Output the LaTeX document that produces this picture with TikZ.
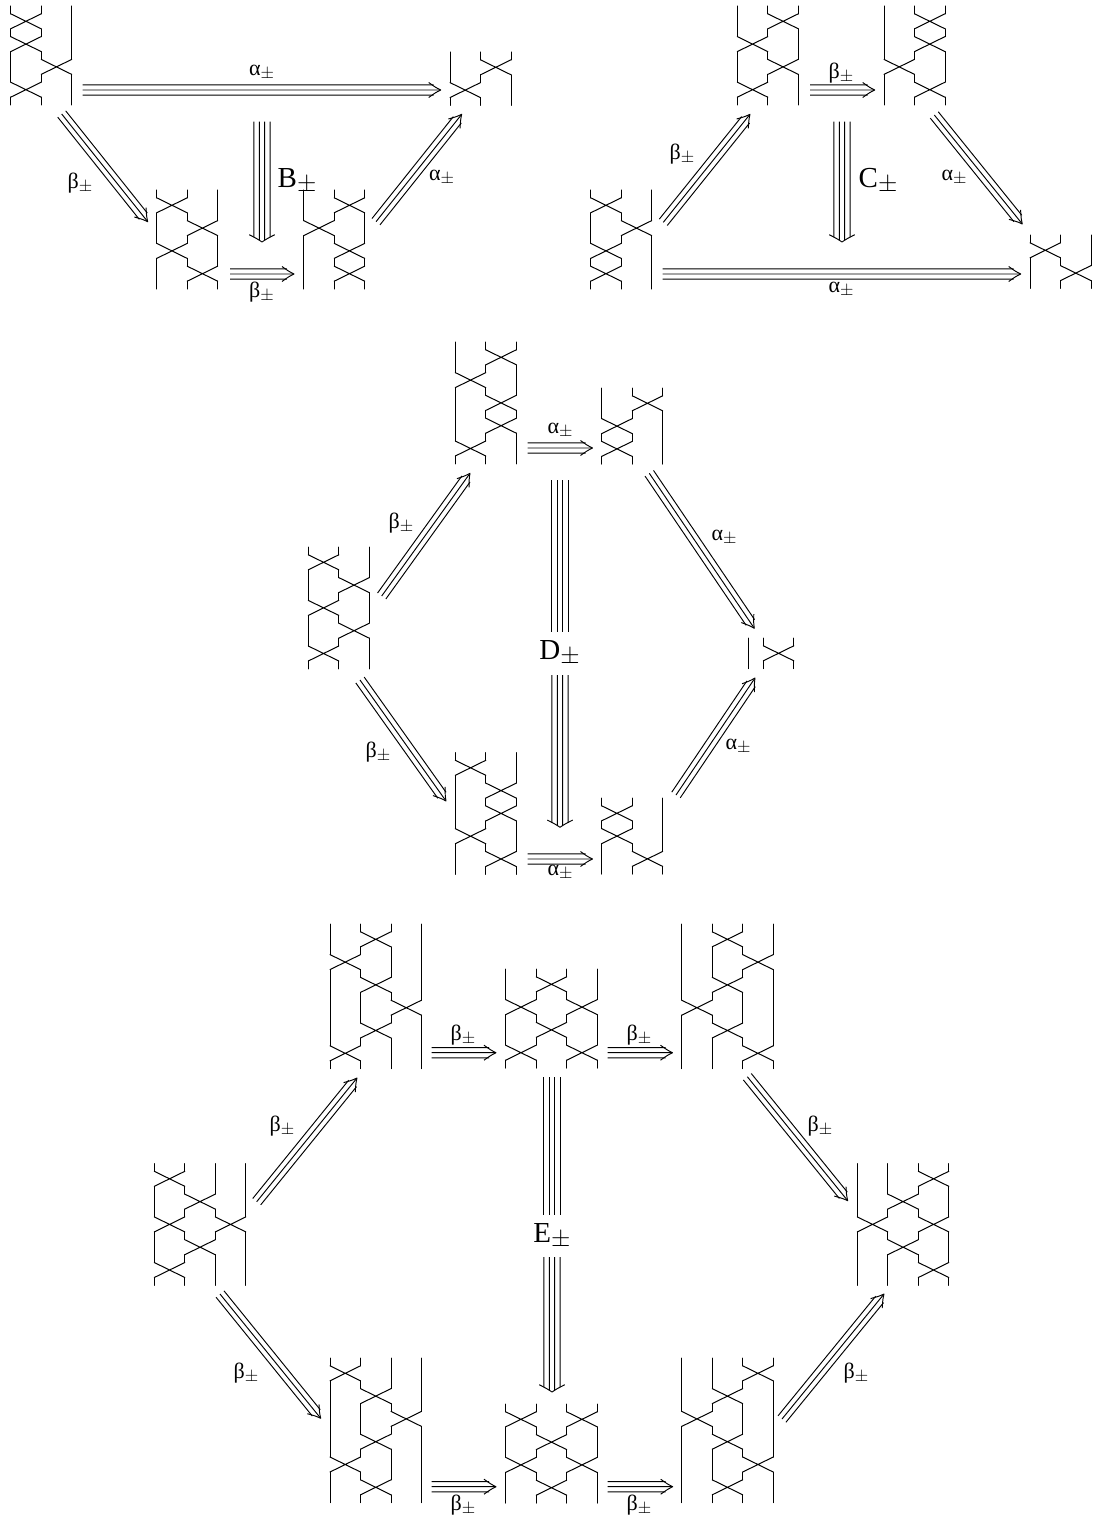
\documentclass[tikz,border=0pt]{standalone}
\usepackage{fontspec}
\setmainfont{Liberation Serif}
\usetikzlibrary{calc}
\tikzset{
  strand/.style={line width=1pt,line cap=round,line join=round,black},
  arrowline/.style={line width=0.95pt,line cap=butt,line join=round,black},
  lab/.style={inner sep=0pt,outer sep=0pt,black}
}
\def\bdx{30.5}
\def\bstep{22.8}
\def\bcap{15.3}
\def\bhalf{7.5}
% name, x0, ytop, number of strands, number of levels, list of level/position
\newcommand\braid[6]{%
  \pgfmathsetmacro\bbot{#3+2*\bcap+(#5-1)*\bstep}%
  \pgfmathsetmacro\bcx{#2+(#4-1)*\bdx/2}%
  \pgfmathsetmacro\bcy{(#3+\bbot)/2}%
  \coordinate (#1) at (\bcx,\bcy);
  \foreach \lv/\ps in {#6}{%
    \pgfmathtruncatemacro\psn{\ps+1}%
    \expandafter\gdef\csname br-#1-\lv-\ps\endcsname{}%
    \expandafter\gdef\csname br-#1-\lv-\psn\endcsname{}%
    \pgfmathsetmacro\xa{#2+\ps*\bdx}%
    \pgfmathsetmacro\xb{\xa+\bdx}%
    \pgfmathsetmacro\yc{#3+\bcap+\lv*\bstep}%
    \pgfmathsetmacro\ya{\yc-\bhalf}%
    \pgfmathsetmacro\yb{\yc+\bhalf}%
    \draw[strand] (\xa,\ya) -- (\xb,\yb) (\xb,\ya) -- (\xa,\yb);
  }%
  \pgfmathtruncatemacro\lastp{#4-1}%
  \pgfmathtruncatemacro\lastl{#5-1}%
  \foreach \ps in {0,...,\lastp}{%
    \foreach \lv in {0,...,\lastl}{%
      \pgfmathsetmacro\xa{#2+\ps*\bdx}%
      \pgfmathsetmacro\yc{#3+\bcap+\lv*\bstep}%
      \pgfmathsetmacro\ya{\yc-\bhalf}%
      \pgfmathsetmacro\yb{\yc+\bhalf}%
      \pgfmathsetmacro\yt{\lv==0 ? #3 : \yc-\bstep/2}%
      \pgfmathsetmacro\yf{\lv==\lastl ? \bbot : \yc+\bstep/2}%
      \ifcsname br-#1-\lv-\ps\endcsname
        \draw[strand] (\xa,\yt) -- (\xa,\ya) (\xa,\yb) -- (\xa,\yf);
      \else
        \draw[strand] (\xa,\yt) -- (\xa,\yf);
      \fi
    }%
  }%
}
% triple arrow: name, from, to
\newcommand\tarr[3]{%
  \coordinate (#1s) at (#2);
  \coordinate (#1t) at (#3);
  \draw[arrowline] (#1s) -- ($(#1t)!1pt!(#1s)$)
    ($(#1s)!5.1pt!90:(#1t)$) -- ($(#1t)!8.66pt!-36:(#1s)$)
    ($(#1s)!5.1pt!-90:(#1t)$) -- ($(#1t)!8.66pt!36:(#1s)$);
  \draw[arrowline] ($(#1t)!14.15pt!-32:(#1s)$) .. controls ($(#1t)!5.6pt!-26.6:(#1s)$) .. (#1t)
    .. controls ($(#1t)!5.6pt!26.6:(#1s)$) .. ($(#1t)!14.15pt!32:(#1s)$);
}
% four parallel lines with no head
\newcommand\qbar[3]{%
  \coordinate (#1s) at (#2);
  \coordinate (#1t) at (#3);
  \draw[arrowline] ($(#1s)!2.7pt!90:(#1t)$) -- ($(#1t)!2.7pt!-90:(#1s)$)
    ($(#1s)!2.7pt!-90:(#1t)$) -- ($(#1t)!2.7pt!90:(#1s)$)
    ($(#1s)!8.1pt!90:(#1t)$) -- ($(#1t)!8.1pt!-90:(#1s)$)
    ($(#1s)!8.1pt!-90:(#1t)$) -- ($(#1t)!8.1pt!90:(#1s)$);
}
% quadruple arrow
\newcommand\qarr[3]{%
  \coordinate (#1s) at (#2);
  \coordinate (#1t) at (#3);
  \draw[arrowline]
    ($(#1s)!2.7pt!90:(#1t)$) -- ($(#1t)!3.1pt!-61:(#1s)$)
    ($(#1s)!2.7pt!-90:(#1t)$) -- ($(#1t)!3.1pt!61:(#1s)$)
    ($(#1s)!8.1pt!90:(#1t)$) -- ($(#1t)!9.3pt!-60.4:(#1s)$)
    ($(#1s)!8.1pt!-90:(#1t)$) -- ($(#1t)!9.3pt!60.4:(#1s)$);
  \draw[arrowline] ($(#1t)!14.7pt!-60.3:(#1s)$) .. controls ($(#1t)!5.4pt!-56:(#1s)$) .. (#1t)
    .. controls ($(#1t)!5.4pt!56:(#1s)$) .. ($(#1t)!14.7pt!60.3:(#1s)$);
}
\newcommand\glab[1]{{\fontsize{22}{22}\selectfont #1}\raisebox{-3pt}{\fontsize{18}{18}\selectfont$\pm$}}
\newcommand\biglab[1]{{\fontsize{29}{29}\selectfont #1}\raisebox{-4.5pt}{\fontsize{23}{23}\selectfont$\pm$}}
\begin{document}
\begin{tikzpicture}[x=1pt,y=-1pt]
\fill[white] (0,0) rectangle (1092,1517);
\useasboundingbox (0,0) rectangle (1092,1517);

% ---- B group
\braid{aS}{10.7}{6}{3}{4}{0/0,1/0,2/1,3/0}
\braid{aT}{450}{52}{3}{2}{0/1,1/0}
\braid{aB}{156.7}{190}{3}{4}{0/0,1/1,2/0,3/1}
\braid{aM}{303.7}{190}{3}{4}{0/1,1/0,2/1,3/1}
\tarr{a1}{82.7,90}{440.7,90}
\tarr{a2}{61.7,114}{147.7,221.7}
\qarr{a3}{262,121.7}{262,242}
\tarr{a4}{230,274}{294,274}
\tarr{a5}{376,221.7}{461.7,114.3}
\node[lab] (la1) at (261.5,73) {\glab{α}};
\node[lab] (la2) at (80,183) {\glab{β}};
\node[lab] (la3) at (297,181) {\biglab{B}};
\node[lab] (la4) at (261.5,292) {\glab{β}};
\node[lab] (la5) at (441.5,178) {\glab{α}};

% ---- C group
\braid{c1}{590.7}{190}{3}{4}{0/0,1/1,2/0,3/0}
\braid{c2}{737.3}{6}{3}{4}{0/1,1/0,2/1,3/0}
\braid{c3}{884}{6}{3}{4}{0/1,1/1,2/0,3/1}
\braid{c4}{1030}{235}{3}{2}{0/0,1/1}
\tarr{c5}{663.3,222.3}{750,114.3}
\tarr{c6}{810,90}{874.7,90}
\qarr{c7}{842,121.7}{842,242}
\tarr{c8}{934.3,115}{1022.3,224}
\tarr{c9}{662.7,274}{1020.7,274}
\node[lab] (lc1) at (682,154) {\glab{β}};
\node[lab] (lc2) at (841,73) {\glab{β}};
\node[lab] (lc3) at (878,181) {\biglab{C}};
\node[lab] (lc4) at (954,178) {\glab{α}};
\node[lab] (lc5) at (841,290) {\glab{α}};

% ---- D group
\braid{d1}{308.3}{547}{3}{5}{0/0,1/1,2/0,3/1,4/0}
\braid{d2}{455.3}{342}{3}{5}{0/1,1/0,2/1,3/1,4/0}
\braid{d3}{601.7}{388}{3}{3}{0/1,1/0,2/0}
\braid{d4}{763.3}{638}{2}{1}{0/0}
\coordinate (d4a) at (748,638);
\coordinate (d4b) at (748,668.6);
\draw[strand] (d4a) -- (d4b);
\braid{d5}{455.3}{752.5}{3}{5}{0/0,1/1,2/1,3/0,4/1}
\braid{d6}{601.7}{798}{3}{3}{0/0,1/0,2/1}
\tarr{d7}{381.7,596}{470,473.3}
\tarr{d8}{527.5,448}{592.5,448}
\tarr{d9}{649.3,473.3}{754.3,628.3}
\tarr{d10}{360,680}{446,801}
\tarr{d11}{527.5,859}{592.5,859}
\tarr{d12}{676,795}{755,678}
\qbar{d13}{560,480}{560,632}
\qarr{d14}{560,675}{560,827.3}
\node[lab] (ld1) at (401,523) {\glab{β}};
\node[lab] (ld2) at (560,431) {\glab{α}};
\node[lab] (ld3) at (724,538) {\glab{α}};
\node[lab] (ld4) at (378,752) {\glab{β}};
\node[lab] (ld5) at (560,873) {\glab{α}};
\node[lab] (ld6) at (738,747) {\glab{α}};
\node[lab] (ld7) at (559.5,653) {\biglab{D}};

% ---- E group
\braid{e1}{154.3}{1163.5}{4}{5}{0/0,1/1,2/0,2/2,3/1,4/0}
\braid{e2}{330}{924}{4}{6}{0/1,1/0,2/1,3/2,4/1,5/0}
\braid{e3}{505.7}{969}{4}{4}{0/1,1/0,1/2,2/1,3/0,3/2}
\braid{e4}{681.7}{924}{4}{6}{0/1,1/2,2/1,3/0,4/1,5/2}
\braid{e5}{857.3}{1163.5}{4}{5}{0/2,1/1,2/0,2/2,3/1,4/2}
\braid{e6}{330}{1358}{4}{6}{0/0,1/1,2/2,3/1,4/0,5/1}
\braid{e7}{505.7}{1404}{4}{4}{0/0,0/2,1/1,2/0,2/2,3/1}
\braid{e8}{681.7}{1358}{4}{6}{0/2,1/1,2/0,3/1,4/2,5/1}
\tarr{e9}{256.7,1201.7}{357,1078}
\tarr{e10}{431.7,1052.7}{496,1052.7}
\tarr{e11}{607.7,1052.7}{672.5,1052.7}
\tarr{e12}{747.3,1076.7}{847.7,1200.7}
\tarr{e13}{220,1294}{320.7,1418.3}
\tarr{e14}{431.7,1486.7}{496,1486.7}
\tarr{e15}{607.7,1486.7}{672.7,1486.7}
\tarr{e16}{782,1419}{884,1294}
\qbar{e17}{552,1077}{552,1215}
\qarr{e18}{552,1257}{552,1392}
\node[lab] (le1) at (282,1126) {\glab{β}};
\node[lab] (le2) at (463,1035) {\glab{β}};
\node[lab] (le3) at (639,1035) {\glab{β}};
\node[lab] (le4) at (820,1126) {\glab{β}};
\node[lab] (le5) at (246,1373) {\glab{β}};
\node[lab] (le6) at (856,1373) {\glab{β}};
\node[lab] (le7) at (463,1505) {\glab{β}};
\node[lab] (le8) at (639,1505) {\glab{β}};
\node[lab] (le9) at (552,1236) {\biglab{E}};
\end{tikzpicture}
\end{document}
